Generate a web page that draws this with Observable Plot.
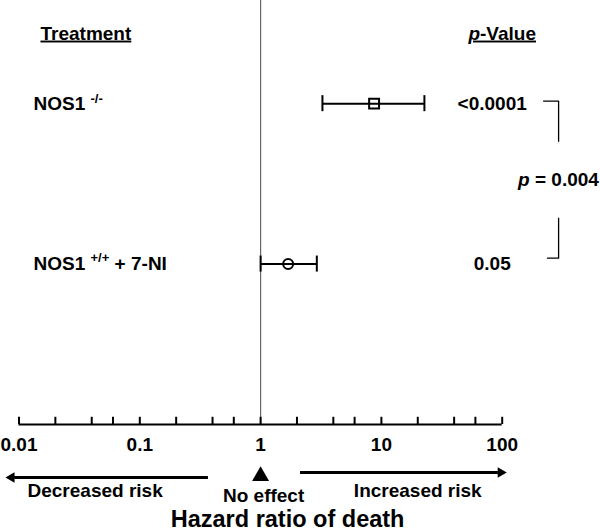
<!DOCTYPE html>
<html>
<head>
<meta charset="utf-8">
<script src="https://cdn.jsdelivr.net/npm/d3@7"></script>
<script src="https://cdn.jsdelivr.net/npm/@observablehq/plot@0.6"></script>
<style>
  html, body { margin: 0; padding: 0; background: #fff; }
</style>
</head>
<body>
<div id="chart"></div>
<script>
// ---- data ----
const treatments = ["NOS1 -/-", "NOS1 +/+ + 7-NI"];
const hazardRatio = [8.7, 1.69];
const ciLower = [3.25, 1.0];
const ciUpper = [22.7, 2.92];
const pValues = ["<0.0001", "0.05"];
const comparisonP = ["p = 0.004"];
const majorTicks = [0.01, 0.1, 1, 10, 100];
const minorTicks = [0.01, 0.02, 0.04, 0.06, 0.1, 0.2, 0.4, 0.6, 1, 2, 4, 6, 10, 20, 40, 60, 100];
const headers = { treatment: "Treatment", pvalue: "p-Value" };
const bottomLabels = { decreased: "Decreased risk", none: "No effect", increased: "Increased risk", title: "Hazard ratio of death" };

const rows = treatments.map((label, i) => ({
  label, row: i, hr: hazardRatio[i], lo: ciLower[i], hi: ciUpper[i], p: pValues[i]
}));

const AX = 2;           // row units where the x axis sits
const CAP = 0.05;       // half-height of CI caps (row units)

const svg = Plot.plot({
  width: 600,
  height: 532,
  marginTop: 0,
  marginBottom: 108,
  marginLeft: 18.5,
  marginRight: 98.3,
  style: { fontFamily: "'Liberation Sans', Arial, sans-serif", fontSize: "19px", fontWeight: "bold", background: "white", color: "black" },
  x: { type: "log", domain: [0.01, 100] },
  y: { domain: [-0.643, AX], reverse: true, axis: null },
  marks: [
    // line of no effect
    Plot.ruleX([1], { stroke: "#666", strokeWidth: 1.2 }),
    // x axis line, ticks and labels
    Plot.ruleY([AX], { strokeWidth: 2.2 }),
    Plot.ruleX(minorTicks, { x: d => d, y1: AX, y2: AX - 0.045, strokeWidth: 2 }),
    Plot.axisX({ ticks: majorTicks, tickSize: 0, tickPadding: 13, tickFormat: d => String(d), label: null, fontSize: 19, fontWeight: "bold" }),
    // confidence intervals
    Plot.ruleY(rows, { y: "row", x1: "lo", x2: "hi", strokeWidth: 2 }),
    Plot.ruleX(rows, { x: "lo", y1: d => d.row - CAP, y2: d => d.row + CAP, strokeWidth: 2 }),
    Plot.ruleX(rows, { x: "hi", y1: d => d.row - CAP, y2: d => d.row + CAP, strokeWidth: 2 }),
    // point estimates
    Plot.dot(rows.filter(d => d.row === 0), { x: "hr", y: "row", symbol: "square", r: 5.6, stroke: "black", strokeWidth: 2, fill: "none" }),
    Plot.dot(rows.filter(d => d.row === 1), { x: "hr", y: "row", symbol: "circle", r: 5, stroke: "black", strokeWidth: 2, fill: "none" }),
    // treatment labels and p-values
    Plot.text(rows, { y: "row", text: "label", frameAnchor: "left", textAnchor: "start", dx: 14.5 }),
    Plot.text(rows, { y: "row", text: "p", frameAnchor: "right", textAnchor: "middle", dx: -10 }),
    // headers
    Plot.text([headers.treatment], { y: -0.4375, frameAnchor: "left", textAnchor: "start", dx: 21.5 }),
    Plot.text([headers.pvalue], { y: -0.4375, frameAnchor: "right", textAnchor: "middle", dx: 0 }),
    // comparison bracket
    Plot.line([[220, -0.016], [293, -0.016], [293, 0.235]], { x: d => d[0], y: d => d[1], strokeWidth: 1.3, curve: "linear" }),
    Plot.line([[293, 0.714], [293, 0.963], [237, 0.963]], { x: d => d[0], y: d => d[1], strokeWidth: 1.3, curve: "linear" }),
    Plot.text(comparisonP, { y: 0.477, frameAnchor: "right", textAnchor: "middle", dx: 56.3 }),
    // direction arrows
    Plot.ruleY([2.33], { x1: 0.0092, x2: 0.37, strokeWidth: 3 }),
    Plot.dot([0.00867], { x: d => d, y: 2.33, symbol: "triangle", rotate: -90, r: 3.9, fill: "black", stroke: "none" }),
    Plot.ruleY([2.299], { x1: 2.14, x2: 93, strokeWidth: 3 }),
    Plot.dot([97.2], { x: d => d, y: 2.299, symbol: "triangle", rotate: 90, r: 3.9, fill: "black", stroke: "none" }),
    Plot.dot([1], { x: d => d, y: 2.322, symbol: "triangle", r: 6.3, fill: "black", stroke: "none" }),
    Plot.text([bottomLabels.decreased], { y: 2.413, frameAnchor: "left", textAnchor: "start", dx: 8.5 }),
    Plot.text([bottomLabels.none], { x: 1, y: 2.443, dx: 3 }),
    Plot.text([bottomLabels.increased], { x: 20, y: 2.413 }),
    Plot.text([bottomLabels.title], { x: 1, dx: 27, y: 2.589, fontSize: 23.5 })
  ]
});

// rich text: superscripts, italic p, underlined headers
const rich = {
  "NOS1 -/-": 'NOS1 <tspan dy="-7" font-size="13">-/-</tspan>',
  "NOS1 +/+ + 7-NI": 'NOS1 <tspan dy="-8" font-size="13">+/+</tspan><tspan dy="8"> + 7-NI</tspan>',
  "p-Value": '<tspan font-style="italic">p</tspan>-Value',
  "p = 0.004": '<tspan font-style="italic">p</tspan> = 0.004'
};
const underlined = ["Treatment", "p-Value"];
d3.select(svg).selectAll("text").each(function () {
  const t = this.textContent;
  if (underlined.includes(t)) {
    this.style.textDecoration = "underline";
    this.style.textDecorationThickness = "3px";
  }
  if (rich[t]) this.innerHTML = rich[t];
});

document.getElementById("chart").appendChild(svg);
</script>
</body>
</html>
